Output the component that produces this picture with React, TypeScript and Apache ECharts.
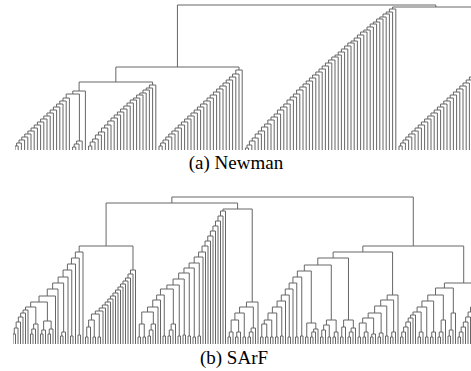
import React, { useEffect, useRef } from "react";
import * as echarts from "echarts";

// A dendrogram node is [mergeHeight, left, right]; a leaf is 0.
type Tree = 0 | [number, Tree, Tree];

const pair = (h: number): Tree => [h, 0, 0];
const stair = (heights: number[], base: Tree = 0): Tree =>
  heights.reduce<Tree>((acc, h) => [h, acc, 0], base);
const chain = (base: Tree, steps: [number, Tree][]): Tree =>
  steps.reduce<Tree>((acc, [h, t]) => [h, acc, t], base);

// ---------- (a) Newman : merge heights ----------
const newmanStairA = [4, 7, 10, 13, 16, 19, 22, 25, 28, 31, 34, 37, 40, 43, 46, 49, 52];
const newmanSmallA = [3, 6, 9];
const newmanStairB = [4, 8, 11, 15, 18, 22, 25, 29, 32, 35, 38, 41, 44, 47, 50, 52, 55, 57, 60, 62, 65];
const newmanStairC = [4, 7, 10, 13, 16, 19, 22, 25, 28, 31, 34, 37, 40, 43, 46, 49, 52, 55, 58, 61, 64, 67, 70, 73, 76, 80];
const newmanStairD = [2, 5, 9, 12, 16, 19, 23, 26, 30, 33, 36, 40, 43, 46, 50, 53, 56, 60, 63, 66, 69, 72, 75, 78, 81, 84, 87, 90, 93, 95, 98, 101, 104, 107, 109, 112, 115, 118, 120, 123, 126, 128, 131, 133, 136, 138, 141];
const newmanStairE = [4, 7, 10, 13, 16, 19, 22, 25, 28, 31, 34, 37, 40, 43, 46, 49, 52, 55, 58, 61, 64, 67, 70, 73, 76, 79];
const newmanMerges = [56, 59, 68, 83, 143, 145];

const newmanTree: Tree = [
  newmanMerges[5],
  [
    newmanMerges[3],
    [
      newmanMerges[2],
      [newmanMerges[1], [newmanMerges[0], stair(newmanStairA), stair(newmanSmallA)], 0],
      stair(newmanStairB),
    ],
    stair(newmanStairC),
  ],
  [newmanMerges[4], stair(newmanStairD), stair(newmanStairE)],
];

// ---------- (b) SArF : merge heights ----------
const sarfLLa: Tree = chain(
  [42, [37, stair([10, 16, 22, 27, 31, 34]), stair([10, 15, 20])], [23, stair([10, 14]), stair([10, 15])]],
  [[48, 0], [55, 0], [61, stair([8, 12])], [67, 0], [74, pair(8)], [80, 0], [86, pair(9)], [92, 0]]
);
const sarfLLb: Tree = stair(
  [33, 36, 39, 42, 45, 48, 51, 54, 57, 60, 63, 66, 70, 74],
  [30, [24, [17, pair(7), 0], pair(7)], pair(7)]
);
const sarfLRa: Tree = chain([32, [20, pair(7), pair(7)], stair([8, 14, 20])], [
  [37, 0], [44, 0], [49, pair(8)], [55, stair([8, 14, 20])], [59, pair(8)], [65, pair(9)],
  [71, pair(8)], [76, pair(7)], [81, pair(8)], [87, 0], [92, 0], [98, 0], [103, 0], [108, 0],
  [113, 0], [118, 0], [123, 0], [128, 0], [133, 0],
]);
const sarfLRb: Tree = [42, [37, [31, [24, stair([7, 12]), stair([7, 12])], pair(7)], stair([7, 12, 16])], 0];
const sarfRLLL: Tree = chain([20, pair(7), pair(7)], [
  [24, pair(7)], [31, pair(7)], [37, pair(8)], [43, 0], [49, pair(7)], [55, 0], [61, pair(7)],
  [67, pair(8)], [73, [21, pair(7), stair([7, 12, 15])]],
]);
const sarfRLLR: Tree = [24, [19, [14, pair(7), 0], pair(7)], stair([7, 12])];
const sarfRLR: Tree = [24, [17, pair(7), 0], stair([7, 12, 16])];
const sarfRLRight: Tree = chain([21, pair(7), stair([7, 12])], [
  [26, stair([7, 10])], [31, stair([7, 11])], [38, pair(8)], [44, stair([7, 12])], [49, 0],
]);
const sarfRRLeft: Tree = chain(stair([7, 12, 17, 22, 26, 29]), [
  [32, stair([7, 12])], [37, pair(7)], [43, stair([7, 12])], [49, stair([7, 12, 24])], [56, stair([8, 14, 31])],
]);
const sarfRRRight: Tree = stair([7, 12, 17, 22, 27, 32, 37, 42, 46, 50, 53]);
const sarfMerges = [98, 135, 141, 79, 86, 92, 61, 98, 147];

const sarfTree: Tree = [
  sarfMerges[8],
  [sarfMerges[2], [sarfMerges[0], sarfLLa, sarfLLb], [sarfMerges[1], sarfLRa, sarfLRb]],
  [
    sarfMerges[7],
    [sarfMerges[5], [sarfMerges[4], [sarfMerges[3], sarfRLLL, sarfRLLR], sarfRLR], sarfRLRight],
    [sarfMerges[6], sarfRRLeft, sarfRRRight],
  ],
];

// Each internal node -> [xLeft, hLeft, xRight, hRight, h]
function layout(tree: Tree): number[][] {
  const segs: number[][] = [];
  let next = 0;
  const walk = (t: Tree): [number, number] => {
    if (t === 0) return [next++, 0];
    const [h, a, b] = t;
    const [xa, ha] = walk(a);
    const [xb, hb] = walk(b);
    segs.push([xa, ha, xb, hb, h]);
    return [(xa + xb) / 2, h];
  };
  walk(tree);
  return segs;
}

const LINE = "#666666";

function dendroSeries(segs: number[][], idx: number) {
  return {
    type: "custom",
    coordinateSystem: "cartesian2d",
    xAxisIndex: idx,
    yAxisIndex: idx,
    clip: true,
    silent: true,
    data: segs,
    encode: { x: [0, 2], y: [1, 3, 4] },
    renderItem: (_p: any, api: any) => {
      const xa = api.value(0), ha = api.value(1), xb = api.value(2), hb = api.value(3), h = api.value(4);
      const pts = [api.coord([xa, ha]), api.coord([xa, h]), api.coord([xb, h]), api.coord([xb, hb])];
      return {
        type: "polyline",
        shape: { points: pts },
        style: { stroke: LINE, lineWidth: 1, fill: null },
      };
    },
  };
}

export default function App() {
  const ref = useRef<HTMLDivElement>(null);
  useEffect(() => {
    document.body.style.margin = "0";
    const chart = echarts.init(ref.current!, null, { renderer: "svg" });
    chart.setOption({
      animation: false,
      backgroundColor: "#ffffff",
      grid: [
        { left: 15, top: 0, width: 456, height: 150 },
        { left: 13, top: 194, width: 458, height: 150 },
      ],
      xAxis: [
        { gridIndex: 0, type: "value", min: 0, max: 142.5, show: false },
        { gridIndex: 1, type: "value", min: 0, max: 183.2, show: false },
      ],
      yAxis: [
        { gridIndex: 0, type: "value", min: 0, max: 150, show: false },
        { gridIndex: 1, type: "value", min: 0, max: 150, show: false },
      ],
      series: [dendroSeries(layout(newmanTree), 0), dendroSeries(layout(sarfTree), 1)],
      graphic: [
        {
          type: "text",
          x: 236,
          y: 162,
          style: {
            text: "(a) Newman",
            font: '19px "Liberation Serif", "Times New Roman", serif',
            fill: "#000",
            textAlign: "center",
            textVerticalAlign: "middle",
          },
        },
        {
          type: "text",
          x: 234,
          y: 357,
          style: {
            text: "(b) SArF",
            font: '19px "Liberation Serif", "Times New Roman", serif',
            fill: "#000",
            textAlign: "center",
            textVerticalAlign: "middle",
          },
        },
      ],
    });
    return () => chart.dispose();
  }, []);
  return <div ref={ref} style={{ width: 471, height: 371 }} />;
}
